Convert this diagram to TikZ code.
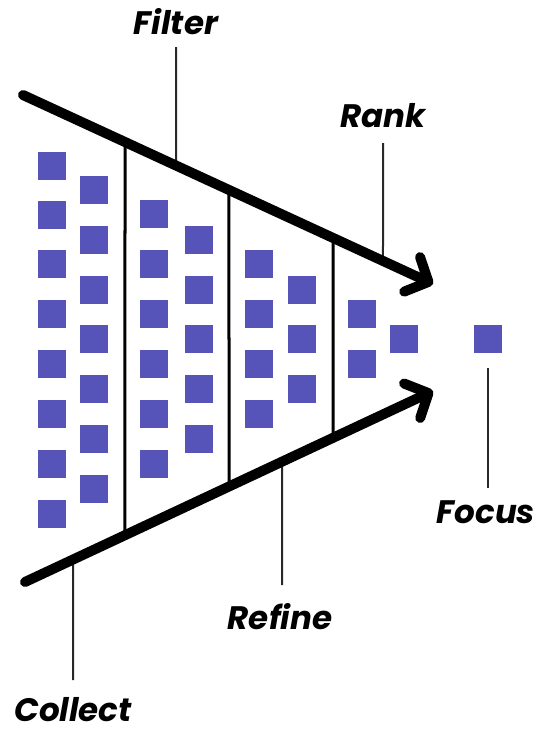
\documentclass[tikz,border=0pt]{standalone}
\usepackage{fontspec}
\newfontfamily\labfont{Poppins}
\usetikzlibrary{arrows.meta,calc}
\definecolor{sqcol}{RGB}{86,84,184}
\definecolor{leadcol}{RGB}{40,40,40}
\tikzset{
  cell/.style={fill=sqcol,draw=none,minimum size=28pt,inner sep=0pt,outer sep=0pt},
  funnel/.style={line width=10pt,line cap=round,line join=round,
    -{Straight Barb[length=18pt,width=38pt,line cap=round,line join=round]}},
  divider/.style={line width=3pt},
  leader/.style={line width=2pt,draw=leadcol},
  lab/.style={font=\labfont\fontsize{32.5}{36}\selectfont\bfseries\itshape,inner sep=0pt}
}
\begin{document}
\begin{tikzpicture}[x=1pt,y=-1pt]
\useasboundingbox (0,0) rectangle (538,731);
% squares
\foreach \x/\ys [count=\c] in {52/{166,215,264,314,364,414,464,514},
  94/{190,240,290,339,389,439,489},
  154/{214,264,314,364,414,464},
  199/{240,290,339,389,439},
  259/{264,314,364,414},
  302/{290,339,389},
  362/{314,364},
  404/{339}}{
  \foreach \y [count=\r] in \ys {\node[cell] (sq-\c-\r) at (\x,\y) {};}
}
\node[cell] (focussq) at (488,339) {};
% funnel ends
\coordinate (t1) at (23,95);
\coordinate (t2) at (433,284);
\coordinate (b1) at (25,582);
\coordinate (b2) at (433,391);
% dividers
\foreach \d/\xx in {d1/125,d2/229,d3/333}{
  \coordinate (\d-top) at ($(t1)!{(\xx-23)/410}!(t2)$);
  \coordinate (\d-bot) at ($(b1)!{(\xx-25)/408}!(b2)$);
  \draw[divider] (\d-top) -- (\d-bot);
}
% labels
\node[lab] (filter) at (176,22) {Filter};
\node[lab] (rank) at (383,116) {Rank};
\node[lab] (collect) at (73,710) {Collect};
\node[lab] (refine) at (280,617) {Refine};
\node[lab] (focus) at (486,512) {Focus};
% leader ends
\coordinate (filter-top) at (176,47);
\coordinate (filter-line) at ($(t1)!{(176-23)/410}!(t2)$);
\coordinate (rank-top) at (383,143);
\coordinate (rank-line) at ($(t1)!{(383-23)/410}!(t2)$);
\coordinate (collect-bot) at (73,680);
\coordinate (collect-line) at ($(b1)!{(73-25)/408}!(b2)$);
\coordinate (refine-bot) at (282,585);
\coordinate (refine-line) at ($(b1)!{(282-25)/408}!(b2)$);
\coordinate (focus-top) at (488,368);
\coordinate (focus-bot) at (488,488);
\draw[leader] (filter-top) -- (filter-line);
\draw[leader] (rank-top) -- (rank-line);
\draw[leader] (collect-line) -- (collect-bot);
\draw[leader] (refine-line) -- (refine-bot);
\draw[leader] (focus-top) -- (focus-bot);
% funnel arrows
\draw[funnel] (t1) -- (t2);
\draw[funnel] (b1) -- (b2);
\end{tikzpicture}
\end{document}
